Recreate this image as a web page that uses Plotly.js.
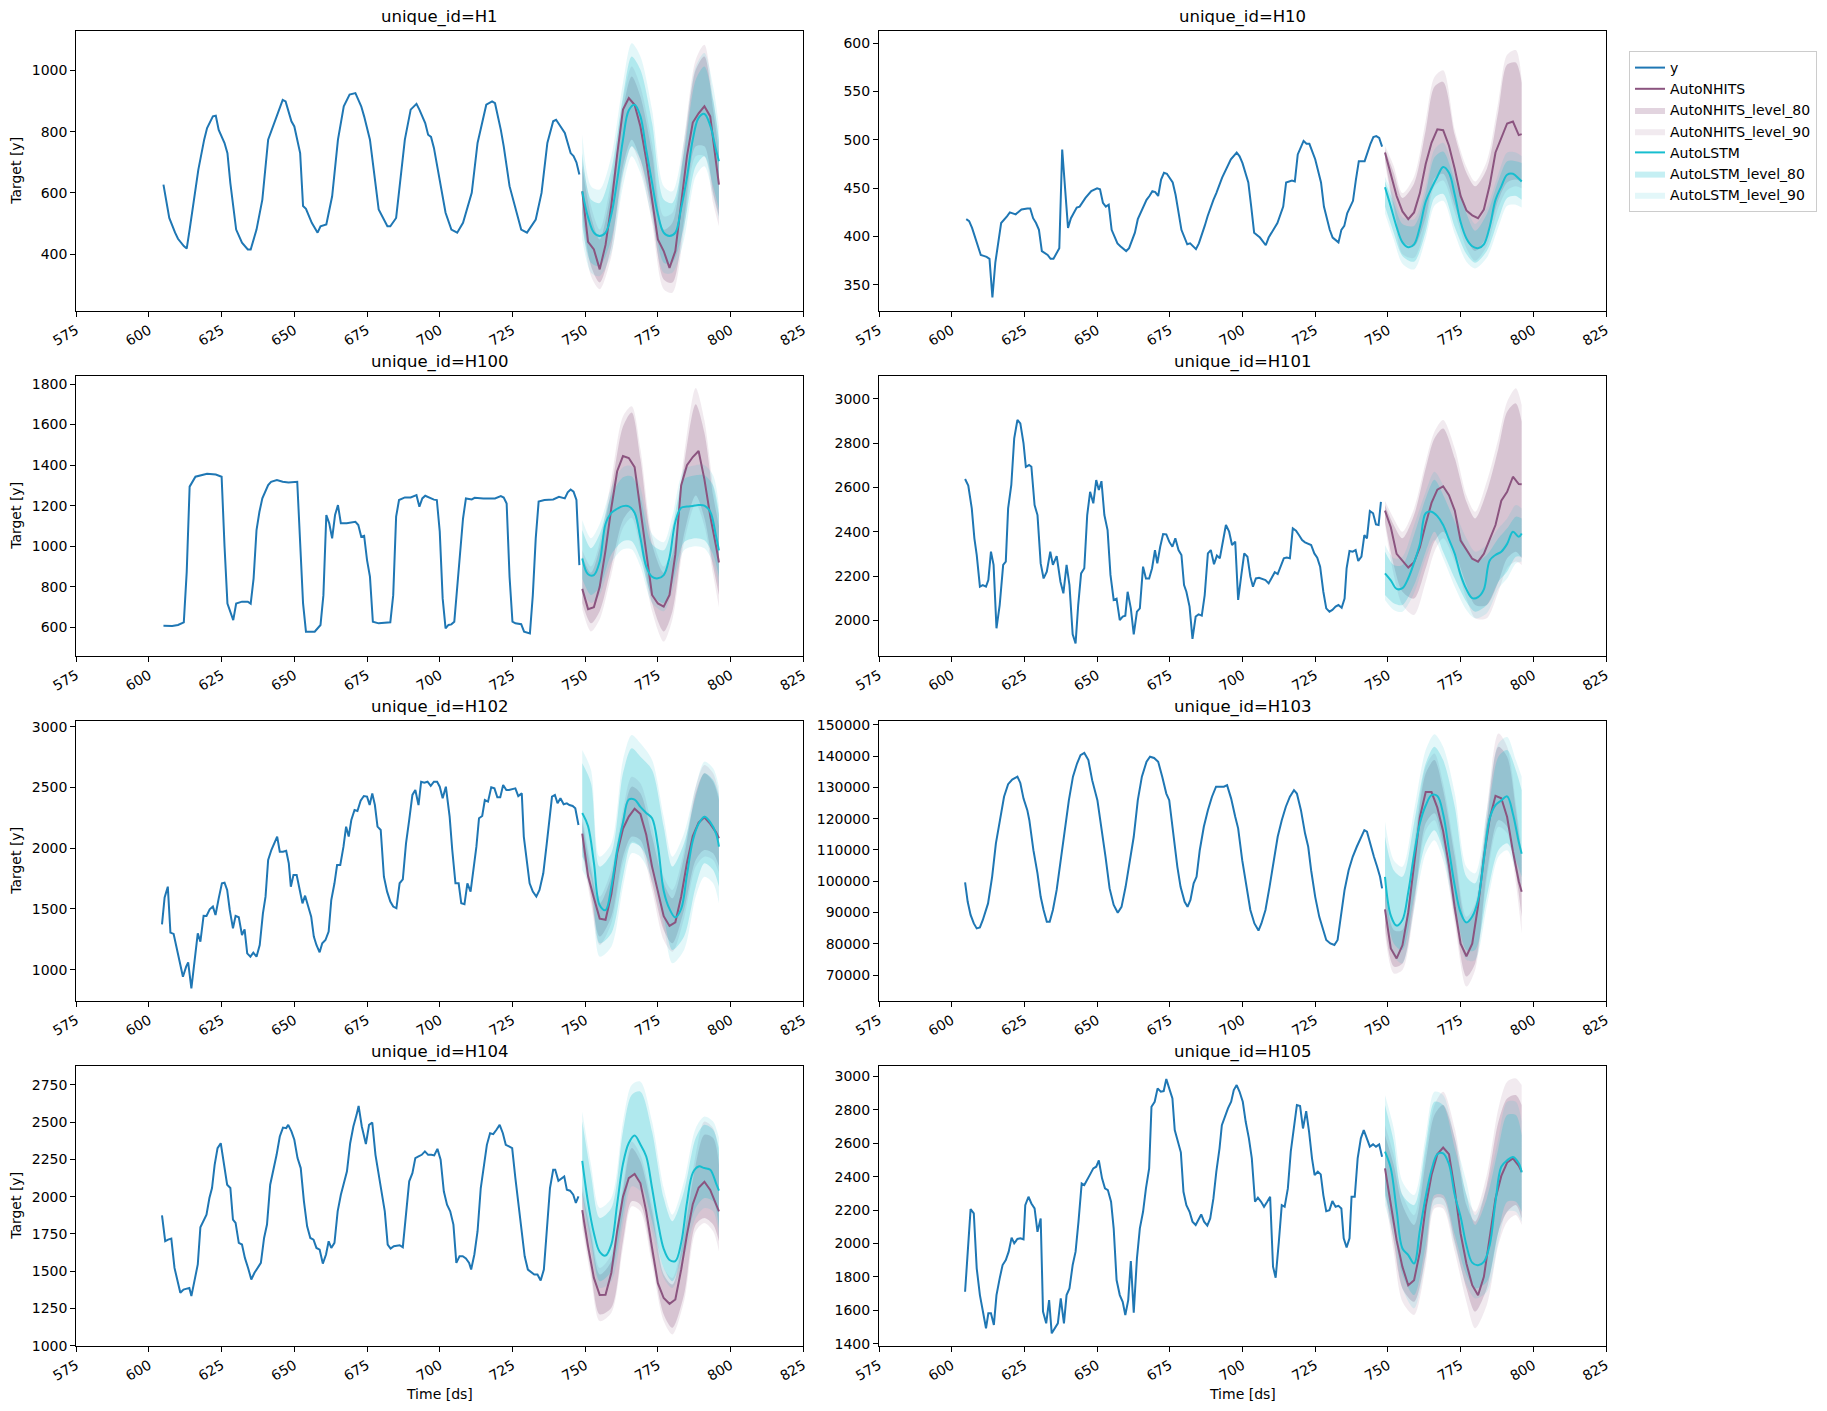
<!DOCTYPE html>
<html>
<head>
<meta charset="utf-8">
<script src="https://cdn.plot.ly/plotly-3.0.1.min.js"></script>
<style>
  html, body { margin: 0; padding: 0; background: #fff; }
  #chart { width: 1827px; height: 1411px; }
</style>
</head>
<body>
<div id="chart"></div>
<script>
// series ids, one panel each (row-major, two columns)
const ids = ['H1', 'H10', 'H100', 'H101', 'H102', 'H103', 'H104', 'H105'];
const tickDs = [575, 600, 625, 650, 675, 700, 725, 750, 775, 800, 825];

// forecast grids
const meanDs = [749, 751, 753, 755, 757, 759, 761, 763, 765, 767, 769, 771, 773, 775, 777, 779, 781, 783, 785, 787, 789, 791, 793, 795, 796];
const bandDs = [749, 752, 755, 759, 763, 766, 769, 773, 777, 780, 784, 788, 791, 794, 796];

// history
const histDs = [
  [605, 607, 609, 610, 612, 613, 614, 617, 619, 620, 622, 623, 624, 626, 627, 628, 630, 632, 634, 635, 637, 639, 641, 644, 646, 647, 649, 650, 652, 653, 654, 656, 658, 659, 661, 663, 665, 667, 669, 671, 673, 674, 676, 678, 679, 682, 683, 685, 686, 688, 690, 692, 693, 695, 696, 697, 698, 700, 702, 704, 706, 708, 711, 713, 716, 718, 719, 721, 722, 724, 726, 728, 730, 733, 735, 737, 739, 740, 743, 745, 746, 747, 748],
  [605, 606, 607, 609, 610, 611, 612, 613, 614, 615, 616, 617, 619, 620, 622, 623, 624, 626, 627, 628, 629, 630, 631, 633, 634, 635, 636, 637, 638, 640, 641, 643, 644, 646, 648, 650, 651, 652, 653, 654, 655, 657, 658, 660, 661, 663, 664, 667, 668, 669, 670, 671, 672, 673, 674, 676, 677, 679, 681, 682, 684, 685, 687, 688, 690, 691, 693, 695, 696, 698, 699, 700, 702, 703, 704, 706, 708, 709, 711, 712, 714, 715, 717, 718, 719, 720, 721, 722, 723, 725, 727, 728, 730, 731, 733, 734, 735, 736, 738, 739, 740, 742, 743, 744, 745, 746, 747, 748],
  [605, 606, 608, 610, 612, 613, 614, 616, 618, 620, 623, 625, 626, 627, 629, 630, 632, 634, 635, 636, 637, 638, 639, 641, 642, 644, 646, 648, 651, 652, 653, 654, 655, 657, 659, 660, 661, 662, 663, 664, 665, 666, 668, 671, 672, 673, 674, 675, 676, 677, 679, 681, 683, 684, 685, 686, 688, 690, 691, 692, 693, 694, 695, 697, 698, 699, 700, 701, 702, 703, 704, 705, 706, 707, 708, 709, 711, 712, 715, 719, 721, 722, 723, 724, 725, 726, 728, 729, 730, 731, 732, 733, 734, 736, 739, 741, 743, 744, 745, 746, 747, 748],
  [604.6, 605.7, 606.9, 607.8, 608.6, 609.7, 610.7, 611.8, 612.6, 613.5, 614.4, 615.4, 616.5, 617.7, 618.6, 619.4, 620.5, 621.5, 622.6, 623.6, 624.7, 625.5, 626.6, 627.4, 628.5, 629.5, 630.6, 631.6, 632.7, 633.9, 634.8, 636.1, 637.4, 638.4, 639.5, 640.5, 641.6, 642.6, 643.5, 644.5, 645.6, 646.6, 647.6, 648.7, 649.7, 650.6, 651.5, 652.5, 653.6, 654.6, 655.7, 656.7, 657.8, 658.8, 659.7, 660.5, 661.6, 662.6, 663.7, 664.7, 665.8, 666.8, 667.9, 668.9, 669.9, 670.7, 671.7, 672.7, 673.8, 674.8, 675.9, 676.9, 678, 679, 679.9, 680.7, 681.8, 682.8, 683.9, 684.9, 686, 687, 688.1, 689.1, 690.2, 691.2, 692.2, 693.3, 694.3, 695.4, 696.4, 697.5, 698.5, 699.6, 700.6, 701.7, 702.7, 703.6, 704.6, 705.7, 706.7, 707.9, 709, 710, 711.1, 712.1, 713.2, 714.2, 715.2, 716.3, 717.3, 718.4, 719.4, 720.5, 721.5, 722.6, 723.6, 724.7, 725.7, 726.7, 727.8, 728.8, 729.9, 730.9, 732, 733, 734.1, 735.1, 735.8, 736.8, 737.9, 738.9, 739.8, 740.9, 741.9, 742.8, 743.8, 744.9, 745.9, 746.8, 747.6],
  [604.5, 605.4, 606.5, 607.4, 608.5, 609.5, 610.6, 611.7, 612.8, 613.5, 614.6, 615.7, 616.8, 617.7, 618.8, 619.8, 620.9, 622, 622.9, 624, 625.1, 626, 626.9, 627.8, 628.9, 629.8, 630.9, 632, 632.9, 633.8, 634.9, 635.9, 637, 638.1, 639.2, 640.1, 641, 642.1, 643.2, 644.1, 645, 646.1, 647.2, 648.1, 648.8, 649.7, 650.8, 651.9, 652.8, 653.7, 654.7, 655.8, 656.7, 657.6, 658.7, 659.6, 660.7, 661.8, 662.7, 663.8, 664.7, 665.8, 666.9, 667.8, 668.7, 669.6, 670.7, 671.7, 672.8, 673.9, 675, 675.9, 676.8, 677.7, 678.6, 679.7, 680.8, 681.9, 683, 684, 685.1, 686.2, 687.3, 688.4, 689.5, 690.6, 691.6, 692.7, 693.6, 694.7, 695.8, 696.9, 698, 699.1, 700, 701, 702.1, 703.4, 704.3, 705.4, 706.5, 707.4, 708.5, 709.5, 710.6, 711.5, 712.6, 713.5, 714.6, 715.5, 716.6, 717.7, 718.8, 719.8, 720.8, 721.8, 722.9, 723.8, 724.9, 726, 727, 728.2, 728.9, 730, 730.9, 732, 733.2, 734.3, 735.6, 736.8, 737.9, 738.6, 739.6, 740.5, 741.5, 742.6, 743.7, 744.6, 745.7, 746.6, 747.7],
  [604.6, 605.5, 606.5, 607.6, 608.6, 609.7, 610.7, 612.5, 613.9, 615.2, 616.6, 618, 619.4, 620.8, 622.6, 623.6, 624.7, 626, 626.7, 628.1, 629.5, 630.6, 631.6, 632.7, 633.7, 634.8, 636.1, 637.5, 638.9, 640.3, 641.7, 643.1, 644.3, 645.6, 647, 648.3, 650.1, 651.5, 652.9, 654.3, 655.7, 657.1, 658.4, 659.8, 661.2, 662.6, 664, 665.4, 667, 668.2, 669.6, 671, 672.4, 673.8, 674.8, 676.2, 677.6, 678.7, 680.1, 681.1, 682.1, 683.2, 684.2, 685.3, 686.7, 688.1, 689.5, 690.9, 692.2, 693.6, 694.7, 696.1, 697.5, 698.5, 699.9, 701.3, 702.7, 704.1, 705.5, 706.5, 707.9, 709.3, 710.7, 712.1, 713.5, 714.9, 716.3, 717.7, 718.7, 720.1, 721.5, 722.6, 723.6, 725, 726.4, 727.8, 728.8, 730.2, 731.6, 732.7, 733.7, 735.1, 736.5, 737.9, 739.3, 740.7, 741.9, 742.8, 743.8, 745.2, 746.3, 747.3, 748],
  [604.5, 605.6, 606.6, 607.7, 608.8, 609.9, 610.8, 611.9, 613, 613.9, 614.6, 615.7, 616.8, 617.7, 618.8, 619.8, 620.8, 621.7, 622.6, 623.6, 624.7, 625.8, 626.9, 628, 628.9, 629.8, 630.9, 632, 633, 634.1, 635.2, 636.3, 637.4, 638.5, 639.6, 640.6, 641.7, 642.8, 643.9, 645, 646.1, 647.2, 647.9, 649, 650, 651.1, 652.2, 653.3, 654.4, 655.5, 656.6, 657.6, 658.7, 659.8, 660.9, 661.8, 662.7, 663.8, 664.9, 666, 667, 668.1, 669.2, 670.3, 671.4, 672.1, 673.2, 674.6, 675.7, 676.8, 677.9, 679, 680.1, 681.1, 682.1, 683.1, 684.2, 685.3, 686.2, 687.3, 688.4, 689.5, 690.6, 691.6, 692.7, 693.8, 694.9, 696, 697.1, 698.1, 699.2, 700.3, 701.4, 702.5, 703.6, 704.7, 705.7, 706.8, 707.9, 709, 710.1, 710.8, 711.9, 713, 714.1, 715.1, 716.2, 717.3, 718.4, 719.5, 720.6, 721.7, 722.7, 723.8, 724.9, 726, 727.1, 728.2, 729.2, 730.3, 731.4, 732.5, 733.6, 734.7, 735.8, 736.8, 737.9, 739, 739.7, 740.8, 741.9, 742.8, 743.7, 744.8, 745.9, 746.8, 747.7],
  [604.6, 605.7, 606.5, 607.6, 608.6, 609.7, 610.7, 611.8, 612.6, 613.5, 614.5, 615.4, 616.5, 617.5, 618.6, 619.6, 620.6, 621.5, 622.6, 623.6, 624.7, 625.3, 626.4, 627.4, 628.5, 629.5, 630.6, 631.4, 632.5, 633.5, 634.4, 635.5, 636.5, 637.5, 638.6, 639.5, 640.5, 641.6, 642.6, 643.6, 644.7, 645.6, 646.6, 647.6, 648.7, 649.7, 650.6, 651.7, 652.7, 653.7, 654.8, 655.7, 656.7, 657.8, 658.8, 659.7, 660.7, 661.6, 662.6, 663.7, 664.7, 665.8, 666.8, 667.9, 668.7, 669.8, 670.8, 671.9, 672.9, 673.8, 674.8, 675.9, 676.7, 677.8, 678.8, 679.7, 680.7, 681.8, 682.8, 683.9, 684.9, 685.8, 686.8, 687.9, 688.9, 690, 691, 692.1, 692.9, 694, 695, 696.1, 697, 698, 699, 700.1, 701.1, 702.2, 703.2, 704.3, 705.3, 706.4, 707.4, 708.5, 709.5, 710.5, 711.4, 712.5, 713.5, 714.5, 715.6, 716.6, 717.7, 718.7, 719.8, 720.8, 721.9, 722.9, 723.9, 724.8, 725.9, 726.9, 727.8, 728.8, 729.9, 730.9, 732, 733, 734, 734.8, 735.8, 736.8, 737.5, 738.6, 739.6, 740.7, 741.7, 742.8, 743.8, 744.9, 745.9, 747, 748]
];
const histY = [
  [627, 518, 470, 450, 426, 418, 480, 676, 774, 812, 850, 852, 806, 763, 730, 632, 480, 437, 415, 415, 480, 578, 774, 855, 904, 899, 834, 817, 730, 557, 548, 502, 470, 491, 497, 589, 774, 883, 921, 926, 883, 850, 774, 622, 546, 491, 491, 518, 600, 774, 872, 891, 872, 828, 790, 783, 747, 643, 535, 480, 470, 502, 600, 763, 888, 899, 893, 806, 752, 622, 546, 480, 470, 513, 600, 763, 834, 839, 796, 730, 720, 700, 660],
  [418, 416, 409, 390, 381, 380, 379, 377, 337, 373, 393, 414, 421, 425, 423, 426, 428, 429, 429, 419, 414, 407, 385, 381, 377, 377, 383, 388, 490, 409, 419, 430, 431, 440, 447, 450, 449, 435, 431, 433, 407, 393, 390, 385, 388, 404, 418, 438, 442, 447, 446, 442, 459, 466, 465, 456, 443, 407, 392, 393, 387, 393, 411, 421, 438, 445, 461, 473, 480, 487, 483, 476, 456, 431, 404, 399, 391, 399, 409, 414, 431, 456, 458, 457, 485, 492, 499, 496, 496, 480, 456, 431, 407, 399, 394, 407, 411, 424, 437, 459, 478, 478, 488, 496, 503, 504, 502, 493],
  [608, 607, 607, 612, 625, 874, 1294, 1343, 1351, 1358, 1354, 1343, 1000, 718, 636, 718, 727, 727, 717, 842, 1080, 1170, 1236, 1302, 1318, 1326, 1318, 1315, 1318, 1039, 718, 579, 579, 579, 612, 759, 1154, 1113, 1039, 1154, 1203, 1113, 1113, 1121, 1105, 1047, 1052, 932, 850, 628, 620, 623, 625, 759, 1146, 1228, 1241, 1241, 1248, 1252, 1195, 1236, 1249, 1236, 1230, 1228, 1072, 743, 595, 612, 615, 628, 800, 1000, 1137, 1236, 1231, 1239, 1236, 1236, 1247, 1240, 1211, 850, 628, 620, 616, 579, 575, 570, 759, 1039, 1220, 1228, 1231, 1244, 1236, 1266, 1280, 1269, 1228, 907],
  [2638, 2608, 2505, 2370, 2295, 2152, 2159, 2152, 2182, 2310, 2250, 1964, 2069, 2250, 2265, 2505, 2611, 2821, 2904, 2889, 2799, 2693, 2701, 2693, 2520, 2475, 2257, 2189, 2220, 2310, 2250, 2290, 2174, 2122, 2250, 2159, 1937, 1896, 2069, 2212, 2235, 2475, 2580, 2528, 2633, 2588, 2628, 2475, 2407, 2205, 2092, 2098, 2001, 2017, 2021, 2129, 2054, 1937, 2039, 2054, 2242, 2189, 2189, 2235, 2317, 2257, 2332, 2389, 2388, 2355, 2332, 2370, 2317, 2295, 2159, 2129, 2062, 1916, 2017, 2027, 2021, 2114, 2302, 2317, 2253, 2292, 2280, 2352, 2430, 2400, 2340, 2355, 2092, 2205, 2302, 2287, 2197, 2152, 2189, 2192, 2186, 2182, 2167, 2189, 2217, 2209, 2250, 2280, 2283, 2280, 2415, 2405, 2385, 2362, 2352, 2347, 2340, 2302, 2283, 2242, 2129, 2054, 2039, 2047, 2062, 2069, 2057, 2098, 2235, 2313, 2310, 2317, 2268, 2287, 2385, 2370, 2493, 2483, 2433, 2430, 2535],
  [1373, 1595, 1683, 1305, 1294, 1189, 1066, 942, 1025, 1060, 846, 1052, 1299, 1230, 1444, 1442, 1497, 1519, 1450, 1587, 1711, 1716, 1656, 1491, 1340, 1442, 1431, 1285, 1332, 1134, 1107, 1140, 1107, 1203, 1464, 1601, 1903, 1985, 2040, 2095, 1971, 1971, 1979, 1875, 1683, 1779, 1779, 1642, 1546, 1609, 1519, 1436, 1272, 1203, 1143, 1217, 1244, 1313, 1573, 1711, 1861, 1861, 2012, 2177, 2095, 2232, 2314, 2306, 2391, 2429, 2424, 2355, 2451, 2355, 2177, 2150, 1765, 1642, 1560, 1519, 1505, 1711, 1743, 2040, 2232, 2438, 2479, 2355, 2547, 2539, 2547, 2512, 2547, 2547, 2506, 2410, 2506, 2259, 1985, 1711, 1711, 1546, 1538, 1711, 1642, 1820, 2012, 2246, 2265, 2396, 2383, 2501, 2492, 2418, 2418, 2520, 2479, 2479, 2484, 2492, 2429, 2451, 2095, 1903, 1711, 1642, 1601, 1656, 1793, 2040, 2259, 2424, 2438, 2369, 2410, 2361, 2369, 2355, 2347, 2328, 2191],
  [99600, 93400, 89200, 86500, 84900, 85200, 87600, 92900, 101400, 112100, 119500, 127000, 131000, 132500, 133400, 131400, 126400, 122700, 119500, 109900, 102500, 95000, 90800, 87000, 87000, 90800, 97200, 106700, 117400, 125900, 133400, 137600, 140300, 141000, 138700, 132300, 125900, 117400, 107800, 97700, 92400, 89900, 91800, 98200, 105700, 114200, 125900, 133400, 138200, 139800, 139400, 138200, 133400, 128000, 125900, 114200, 104600, 98200, 93400, 91800, 94000, 99300, 101400, 109900, 117400, 122700, 127000, 130200, 130200, 130200, 130700, 126400, 120600, 116900, 106700, 99300, 90800, 86500, 84200, 86500, 90800, 98200, 105700, 114200, 119500, 123800, 127000, 129100, 128000, 122700, 115300, 111000, 103500, 95000, 88600, 84400, 81200, 80100, 79600, 81200, 88600, 97200, 103500, 107800, 111000, 113700, 116300, 115800, 112100, 107800, 104600, 101400, 97700],
  [1875, 1701, 1712, 1719, 1522, 1433, 1355, 1377, 1382, 1388, 1333, 1433, 1545, 1795, 1835, 1879, 1991, 2058, 2214, 2326, 2359, 2214, 2080, 2058, 1846, 1824, 1690, 1679, 1589, 1522, 1444, 1489, 1522, 1556, 1723, 1813, 2080, 2170, 2281, 2404, 2464, 2460, 2482, 2438, 2382, 2259, 2192, 1969, 1801, 1723, 1712, 1656, 1645, 1551, 1612, 1701, 1656, 1690, 1902, 2013, 2080, 2170, 2359, 2471, 2549, 2609, 2471, 2353, 2482, 2498, 2281, 2147, 2036, 1902, 1679, 1652, 1668, 1672, 1674, 1661, 1902, 2103, 2158, 2259, 2270, 2281, 2304, 2281, 2281, 2277, 2321, 2248, 2036, 1946, 1902, 1813, 1556, 1600, 1600, 1585, 1556, 1511, 1612, 1768, 2058, 2214, 2348, 2426, 2420, 2449, 2482, 2426, 2348, 2337, 2326, 2125, 1946, 1790, 1600, 1511, 1493, 1478, 1478, 1438, 1511, 1790, 2058, 2181, 2181, 2107, 2125, 2136, 2047, 2040, 2013, 1958, 2002],
  [1711, 2011, 2206, 2180, 1851, 1691, 1592, 1492, 1582, 1582, 1512, 1691, 1791, 1871, 1901, 1951, 2035, 2001, 2027, 2031, 2025, 2230, 2280, 2240, 2210, 2070, 2150, 1592, 1522, 1661, 1462, 1492, 1522, 1671, 1522, 1691, 1731, 1871, 1951, 2131, 2360, 2350, 2386, 2414, 2450, 2460, 2498, 2390, 2330, 2320, 2250, 2091, 1781, 1691, 1651, 1572, 1661, 1895, 1586, 1911, 2091, 2190, 2330, 2450, 2819, 2849, 2929, 2909, 2913, 2985, 2929, 2869, 2679, 2600, 2546, 2310, 2230, 2190, 2131, 2111, 2141, 2174, 2131, 2107, 2150, 2270, 2430, 2570, 2709, 2769, 2809, 2849, 2919, 2949, 2909, 2849, 2729, 2630, 2510, 2250, 2274, 2250, 2220, 2250, 2280, 1861, 1795, 2011, 2230, 2220, 2330, 2550, 2689, 2829, 2823, 2689, 2793, 2669, 2510, 2410, 2430, 2414, 2290, 2194, 2200, 2254, 2220, 2226, 2210, 2031, 1977, 2031, 2280, 2280, 2510, 2630, 2679, 2620, 2580, 2594, 2580, 2594, 2520]
];

// AutoNHITS forecast
const nhitsMean = [
  [605, 440, 415, 350, 430, 560, 725, 872, 910, 888, 817, 709, 578, 448, 410, 355, 410, 560, 720, 830, 860, 883, 850, 700, 627],
  [487, 463, 442, 426, 418, 425, 445, 475, 497, 511, 510, 494, 470, 442, 427, 422, 419, 428, 453, 487, 503, 517, 519, 505, 506],
  [790, 690, 700, 800, 980, 1190, 1370, 1445, 1435, 1390, 1180, 960, 760, 718, 702, 760, 960, 1300, 1400, 1440, 1470, 1330, 1150, 1000, 920],
  [2495, 2420, 2300, 2268, 2238, 2262, 2330, 2435, 2530, 2590, 2605, 2565, 2495, 2360, 2320, 2278, 2265, 2300, 2365, 2430, 2540, 2580, 2648, 2615, 2614],
  [2120, 1770, 1590, 1420, 1410, 1620, 1958, 2160, 2260, 2325, 2280, 2110, 1848, 1640, 1440, 1360, 1390, 1600, 1880, 2100, 2210, 2254, 2200, 2130, 2081],
  [91000, 78500, 75300, 79500, 90000, 105000, 120500, 128500, 128500, 123500, 116000, 105000, 91500, 80000, 76000, 80000, 92000, 107500, 120000, 127300, 126500, 120500, 109500, 100000, 96600],
  [1910, 1665, 1455, 1340, 1342, 1490, 1770, 2000, 2125, 2152, 2090, 1900, 1656, 1420, 1320, 1281, 1310, 1510, 1745, 1950, 2060, 2100, 2045, 1950, 1902],
  [2450, 2230, 2020, 1860, 1750, 1780, 1950, 2220, 2410, 2535, 2575, 2535, 2320, 2060, 1880, 1750, 1690, 1800, 2040, 2270, 2405, 2485, 2510, 2465, 2430]
];
const nhitsLo80 = [
  [535, 361, 307, 426, 687, 774, 709, 535, 317, 307, 513, 752, 752, 600, 524],
  [480, 431, 395, 390, 420, 460, 465, 432, 398, 385, 400, 438, 456, 459, 456],
  [720, 620, 680, 900, 1130, 1180, 1030, 720, 580, 680, 1060, 1250, 1140, 900, 760],
  [2445, 2250, 2129, 2098, 2235, 2355, 2400, 2310, 2159, 2069, 2069, 2174, 2280, 2310, 2280],
  [2000, 1601, 1272, 1436, 1930, 2095, 2067, 1711, 1327, 1217, 1491, 1903, 1985, 1958, 1848],
  [85400, 72700, 73700, 92900, 118500, 121700, 112100, 88600, 69500, 73700, 102500, 119500, 117400, 102500, 88600],
  [1835, 1500, 1210, 1254, 1701, 1969, 1946, 1589, 1210, 1121, 1344, 1813, 1857, 1813, 1701],
  [2330, 2011, 1731, 1651, 1931, 2270, 2270, 2011, 1731, 1592, 1731, 2071, 2190, 2230, 2150]
];
const nhitsHi80 = [
  [687, 524, 448, 611, 872, 980, 915, 730, 480, 502, 741, 1002, 1046, 872, 730],
  [490, 466, 440, 455, 510, 555, 560, 505, 466, 452, 470, 530, 578, 580, 559],
  [950, 870, 990, 1280, 1590, 1660, 1430, 1010, 870, 960, 1400, 1700, 1560, 1250, 1100],
  [2520, 2430, 2370, 2475, 2686, 2821, 2866, 2731, 2535, 2460, 2581, 2776, 2941, 2979, 2896],
  [2220, 1820, 1546, 1765, 2259, 2506, 2451, 2095, 1711, 1587, 1930, 2451, 2616, 2547, 2396],
  [98200, 84400, 84400, 109900, 134400, 138700, 129100, 107800, 86500, 90800, 119500, 143000, 139800, 122700, 107800],
  [2036, 1746, 1478, 1567, 2036, 2326, 2237, 1902, 1478, 1411, 1746, 2214, 2415, 2393, 2214],
  [2649, 2470, 2230, 2111, 2490, 2769, 2829, 2630, 2230, 2131, 2350, 2729, 2869, 2889, 2829]
];
const nhitsLo90 = [
  [513, 328, 285, 393, 654, 752, 687, 502, 285, 274, 480, 720, 720, 567, 491],
  [476, 424, 382, 378, 412, 452, 458, 425, 388, 375, 390, 430, 448, 452, 450],
  [690, 580, 640, 860, 1090, 1140, 990, 680, 530, 640, 1020, 1210, 1100, 860, 700],
  [2430, 2205, 2069, 2024, 2174, 2310, 2370, 2265, 2098, 2009, 2009, 2129, 2235, 2265, 2250],
  [1960, 1546, 1203, 1382, 1875, 2053, 2012, 1656, 1244, 1148, 1422, 1848, 1930, 1903, 1793],
  [83300, 70500, 71600, 90800, 116300, 119500, 109900, 86500, 66300, 71600, 100400, 117400, 115300, 99300, 83300],
  [1790, 1455, 1165, 1221, 1656, 1935, 1902, 1545, 1165, 1076, 1299, 1768, 1824, 1768, 1634],
  [2290, 1951, 1651, 1572, 1871, 2210, 2210, 1951, 1651, 1492, 1631, 1991, 2131, 2170, 2111]
];
const nhitsHi90 = [
  [709, 557, 480, 643, 904, 1013, 948, 763, 524, 535, 774, 1035, 1084, 904, 763],
  [494, 473, 445, 462, 520, 565, 572, 510, 472, 457, 478, 540, 588, 593, 562],
  [980, 900, 1020, 1330, 1640, 1690, 1480, 1050, 900, 1000, 1450, 1780, 1620, 1300, 1150],
  [2538, 2460, 2400, 2505, 2716, 2851, 2904, 2776, 2565, 2490, 2626, 2821, 2986, 3047, 2971],
  [2260, 1875, 1601, 1820, 2314, 2588, 2534, 2177, 1765, 1656, 1985, 2506, 2684, 2616, 2451],
  [100400, 86500, 86500, 112100, 136600, 140800, 131200, 109900, 88600, 92900, 122700, 147200, 143000, 124800, 109900],
  [2080, 1790, 1522, 1612, 2080, 2371, 2281, 1946, 1522, 1455, 1790, 2281, 2504, 2460, 2281],
  [2709, 2530, 2290, 2170, 2550, 2829, 2909, 2689, 2290, 2190, 2410, 2809, 2969, 2989, 2949]
];

// AutoLSTM forecast
const lstmMean = [
  [605, 520, 470, 459, 470, 530, 640, 774, 870, 888, 850, 740, 633, 530, 470, 459, 470, 550, 650, 774, 845, 858, 820, 740, 703],
  [451, 431, 410, 394, 389, 392, 410, 436, 450, 462, 472, 466, 443, 415, 398, 390, 388, 392, 410, 438, 452, 464, 465, 460, 457],
  [940, 862, 858, 925, 1110, 1165, 1185, 1198, 1197, 1165, 1040, 900, 850, 842, 858, 945, 1120, 1190, 1196, 1199, 1203, 1200, 1170, 1050, 980],
  [2212, 2180, 2142, 2145, 2190, 2260, 2345, 2483, 2490, 2470, 2430, 2365, 2300, 2205, 2140, 2100, 2105, 2140, 2270, 2295, 2310, 2345, 2400, 2377, 2392],
  [2290, 2180, 1880, 1530, 1490, 1680, 1985, 2210, 2400, 2400, 2340, 2290, 2246, 2020, 1650, 1500, 1430, 1500, 1780, 2060, 2200, 2258, 2215, 2120, 2012],
  [101400, 89000, 85800, 87600, 96500, 108500, 118500, 124200, 127500, 127200, 121500, 110000, 98500, 90000, 86800, 88700, 94000, 107000, 120000, 124300, 125800, 127100, 121500, 112500, 108800],
  [2241, 1960, 1755, 1630, 1605, 1680, 1950, 2220, 2360, 2410, 2350, 2270, 2058, 1830, 1650, 1575, 1568, 1690, 1960, 2160, 2203, 2192, 2181, 2090, 2040],
  [2550, 2450, 2200, 1970, 1931, 1880, 2080, 2280, 2440, 2535, 2540, 2475, 2290, 2160, 1990, 1885, 1870, 1890, 1990, 2250, 2460, 2498, 2518, 2480, 2426]
];
const lstmLo80 = [
  [491, 372, 361, 448, 665, 752, 709, 557, 372, 372, 491, 687, 720, 622, 546],
  [431, 404, 380, 374, 405, 440, 444, 410, 382, 373, 385, 418, 440, 442, 438],
  [840, 760, 800, 960, 1025, 1025, 940, 760, 720, 820, 1020, 1040, 1030, 960, 850],
  [2114, 2077, 2069, 2159, 2310, 2400, 2310, 2189, 2084, 2039, 2069, 2174, 2220, 2287, 2287],
  [1930, 1765, 1217, 1299, 1765, 2040, 2012, 1820, 1436, 1162, 1272, 1683, 1875, 1820, 1683],
  [94000, 80100, 78000, 95000, 112100, 116300, 109900, 92900, 78000, 78000, 95000, 109900, 112100, 106700, 101400],
  [2013, 1701, 1433, 1500, 1879, 2147, 2103, 1835, 1522, 1433, 1656, 1924, 1991, 1969, 1790],
  [2290, 2091, 1811, 1691, 1991, 2290, 2290, 2051, 1811, 1731, 1771, 2071, 2250, 2250, 2190]
];
const lstmHi80 = [
  [730, 578, 567, 676, 915, 1046, 1002, 828, 578, 567, 730, 970, 1013, 904, 774],
  [457, 435, 413, 411, 445, 482, 488, 458, 424, 406, 423, 458, 478, 478, 476],
  [1080, 990, 1060, 1250, 1340, 1345, 1240, 1010, 980, 1100, 1330, 1350, 1350, 1300, 1160],
  [2310, 2250, 2250, 2385, 2550, 2634, 2566, 2445, 2325, 2265, 2295, 2370, 2415, 2468, 2460],
  [2698, 2534, 1848, 1958, 2616, 2822, 2753, 2643, 2177, 1848, 2040, 2424, 2616, 2561, 2424],
  [114200, 103500, 101400, 118500, 137600, 143000, 138700, 123800, 101400, 99300, 118500, 139800, 141900, 135500, 129100],
  [2504, 2147, 1857, 1924, 2438, 2683, 2705, 2438, 1991, 1835, 2036, 2393, 2482, 2449, 2326],
  [2829, 2610, 2290, 2230, 2590, 2849, 2829, 2570, 2290, 2111, 2270, 2570, 2769, 2769, 2649]
];
const lstmLo90 = [
  [448, 339, 328, 404, 622, 720, 665, 513, 339, 339, 448, 654, 687, 589, 513],
  [424, 397, 372, 366, 398, 432, 437, 403, 374, 367, 378, 410, 432, 433, 430],
  [780, 720, 760, 920, 985, 985, 900, 720, 680, 780, 980, 1000, 990, 920, 800],
  [2092, 2047, 2039, 2122, 2280, 2362, 2280, 2152, 2047, 2009, 2032, 2144, 2189, 2257, 2265],
  [1820, 1656, 1107, 1189, 1683, 1958, 1930, 1738, 1354, 1052, 1162, 1601, 1765, 1711, 1546],
  [90800, 75900, 73700, 90800, 108900, 113100, 106700, 89700, 74800, 74800, 91800, 107800, 109900, 103500, 98200],
  [1946, 1634, 1388, 1433, 1813, 2069, 2036, 1768, 1455, 1388, 1589, 1857, 1924, 1902, 1723],
  [2230, 2031, 1731, 1612, 1911, 2230, 2230, 1991, 1751, 1671, 1711, 2011, 2190, 2190, 2131]
];
const lstmHi90 = [
  [790, 622, 611, 720, 959, 1089, 1046, 872, 622, 605, 774, 1013, 1057, 948, 817],
  [462, 442, 420, 418, 452, 490, 497, 465, 430, 413, 430, 465, 487, 487, 483],
  [1130, 1040, 1110, 1290, 1390, 1395, 1290, 1060, 1020, 1150, 1380, 1400, 1400, 1350, 1200],
  [2340, 2280, 2287, 2430, 2580, 2671, 2611, 2490, 2370, 2310, 2340, 2415, 2460, 2520, 2505],
  [2808, 2643, 1930, 2040, 2726, 2931, 2863, 2726, 2259, 1930, 2122, 2506, 2712, 2657, 2506],
  [119000, 106700, 104600, 122700, 141900, 147000, 143000, 128000, 104600, 102500, 122700, 144000, 146100, 138700, 133400],
  [2571, 2214, 1924, 1991, 2504, 2750, 2772, 2504, 2058, 1879, 2103, 2460, 2538, 2504, 2393],
  [2889, 2689, 2370, 2290, 2649, 2909, 2889, 2630, 2370, 2170, 2330, 2630, 2849, 2849, 2729]
];

// per-panel axis settings
const yRanges = [[214, 1130], [323, 613], [459, 1841], [1839, 3104], [742, 3049], [61700, 151300], [998, 2879], [1386, 3065]];
const yDticks = [200, 50, 200, 200, 500, 10000, 250, 200];

const W = 1827, H = 1411;
const colX = [[76.2, 803.3], [879, 1606]];
const rowY = [[30.7, 311], [375.7, 656], [720.7, 1001], [1065.7, 1346]];

const COLORS = {
    y: '#1f77b4',
    nhits: 'rgb(139, 84, 127)',
    nhits80: 'rgba(139, 84, 127, 0.25)',
    nhits90: 'rgba(139, 84, 127, 0.12)',
    lstm: '#17becf',
    lstm80: 'rgba(23, 190, 207, 0.25)',
    lstm90: 'rgba(23, 190, 207, 0.12)'
};

function suffix(i) {
    return i === 0 ? '' : String(i + 1);
}

function bandTraces(i, lo, hi, name, color, rank) {
    const s = suffix(i);
    const base = {
        x: bandDs,
        mode: 'lines',
        line: { width: 0, shape: 'spline', smoothing: 0.8 },
        xaxis: 'x' + s,
        yaxis: 'y' + s,
        hoverinfo: 'skip',
        legendgroup: name
    };
    return [
        Object.assign({}, base, { y: lo[i], showlegend: false }),
        Object.assign({}, base, {
            y: hi[i],
            name: name,
            fill: 'tonexty',
            fillcolor: color,
            showlegend: i === 0,
            legendrank: rank
        })
    ];
}

function lineTrace(i, x, y, name, color, rank, shape) {
    const s = suffix(i);
    return {
        x: x,
        y: y,
        name: name,
        mode: 'lines',
        line: { color: color, width: 2, shape: shape },
        xaxis: 'x' + s,
        yaxis: 'y' + s,
        legendgroup: name,
        showlegend: i === 0,
        legendrank: rank
    };
}

const traces = [];
ids.forEach((id, i) => {
    traces.push(...bandTraces(i, nhitsLo80, nhitsHi80, 'AutoNHITS_level_80', COLORS.nhits80, 3));
    traces.push(...bandTraces(i, nhitsLo90, nhitsHi90, 'AutoNHITS_level_90', COLORS.nhits90, 4));
    traces.push(...bandTraces(i, lstmLo80, lstmHi80, 'AutoLSTM_level_80', COLORS.lstm80, 6));
    traces.push(...bandTraces(i, lstmLo90, lstmHi90, 'AutoLSTM_level_90', COLORS.lstm90, 7));
    traces.push(lineTrace(i, histDs[i], histY[i], 'y', COLORS.y, 1, 'linear'));
    traces.push(lineTrace(i, meanDs, nhitsMean[i], 'AutoNHITS', COLORS.nhits, 2, 'linear'));
    traces.push(lineTrace(i, meanDs, lstmMean[i], 'AutoLSTM', COLORS.lstm, 5, 'spline'));
});

const axisCommon = {
    showline: true,
    mirror: true,
    linecolor: '#000',
    linewidth: 1,
    ticks: 'outside',
    ticklen: 5,
    tickwidth: 1,
    tickcolor: '#000',
    showgrid: false,
    zeroline: false,
    tickfont: { size: 14, color: '#000' }
};

const layout = {
    width: W,
    height: H,
    autosize: false,
    margin: { l: 0, r: 0, t: 0, b: 0 },
    paper_bgcolor: '#fff',
    plot_bgcolor: '#fff',
    font: { family: 'DejaVu Sans, sans-serif', size: 14, color: '#000' },
    showlegend: true,
    legend: {
        x: 1629 / W,
        y: 1 - 51 / H,
        xanchor: 'left',
        yanchor: 'top',
        bordercolor: '#cccccc',
        borderwidth: 1,
        bgcolor: 'rgba(255,255,255,0.8)',
        font: { size: 14 },
        traceorder: 'normal',
        tracegroupgap: 0,
        itemwidth: 30
    },
    annotations: []
};

ids.forEach((id, i) => {
    const s = suffix(i);
    const r = Math.floor(i / 2);
    const c = i % 2;
    const xd = [colX[c][0] / W, colX[c][1] / W];
    const yd = [1 - rowY[r][1] / H, 1 - rowY[r][0] / H];

    layout['xaxis' + s] = Object.assign({}, axisCommon, {
        domain: xd,
        anchor: 'y' + s,
        range: [575, 825],
        tickvals: tickDs,
        ticktext: tickDs.map(String),
        tickangle: -30
    });
    layout['yaxis' + s] = Object.assign({}, axisCommon, {
        domain: yd,
        anchor: 'x' + s,
        range: yRanges[i],
        tick0: 0,
        dtick: yDticks[i],
        tickformat: 'd'
    });

    // subplot title
    layout.annotations.push({
        text: 'unique_id=' + id,
        xref: 'paper', yref: 'paper',
        x: (xd[0] + xd[1]) / 2,
        y: 1 - (rowY[r][0] - 14) / H,
        xanchor: 'center', yanchor: 'middle',
        showarrow: false,
        font: { size: 16.5 }
    });

    if (c === 0) {
        layout.annotations.push({
            text: 'Target [y]',
            xref: 'paper', yref: 'paper',
            x: 16 / W,
            y: (yd[0] + yd[1]) / 2,
            xanchor: 'center', yanchor: 'middle',
            textangle: -90,
            showarrow: false,
            font: { size: 14 }
        });
    }
    if (r === 3) {
        layout.annotations.push({
            text: 'Time [ds]',
            xref: 'paper', yref: 'paper',
            x: (xd[0] + xd[1]) / 2,
            y: 1 - 1394 / H,
            xanchor: 'center', yanchor: 'middle',
            showarrow: false,
            font: { size: 14 }
        });
    }
});

Plotly.newPlot('chart', traces, layout, { displayModeBar: false, responsive: false });
</script>
</body>
</html>
